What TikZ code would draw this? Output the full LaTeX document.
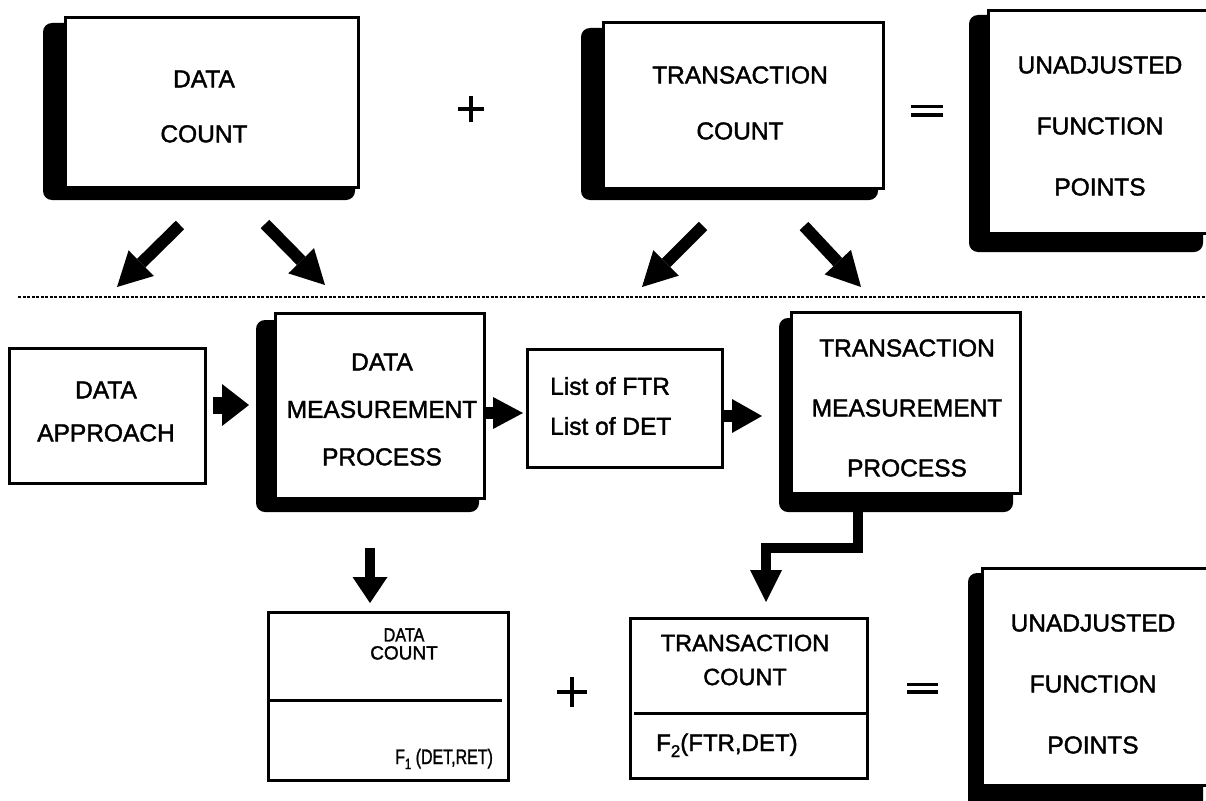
\documentclass[tikz,border=0pt]{standalone}
\usepackage{fontspec}
\setmainfont{Liberation Sans}[FakeBold=1.6]
\usepackage{graphicx}
\usetikzlibrary{arrows.meta}
\newcommand\fsz[2]{\fontsize{#1}{#2}\selectfont}
\begin{document}
\begin{tikzpicture}[x=1pt,y=-1pt,
  frame/.style={draw=black,line width=3pt,fill=white,inner sep=0pt},
  shade/.style={fill=black,rounded corners=9pt},
  lbl/.style 2 args={font=\fsz{#1}{#2},align=center,inner sep=0pt},
  blk/.style n args={3}{draw=black,line width=#1,line cap=butt,line join=miter,
    -{Triangle[length=#2,width=#3,line width=0pt]}},
  dashrule/.style={line width=1.8pt,dash pattern=on 3pt off 1.5pt},
  sign/.style={line width=3.6pt}]
\clip (0,0) rectangle (1206,800);
\fill[white] (0,0) rectangle (1206,800);

% ---------- upper equation ----------
\fill[shade] (43,23) rectangle (355,200);
\node[frame,minimum width=293pt,minimum height=169pt] (dc) at (211.5,102.5) {};
\node[lbl={24.5}{55}] (dcT) at (204,106.5) {DATA\\COUNT};

\fill[shade] (581,28) rectangle (878,200);
\node[frame,minimum width=280pt,minimum height=165pt] (tc) at (743,105.5) {};
\node[lbl={24.5}{56}] (tcT) at (740,103) {TRANSACTION\\COUNT};

\fill[shade] (969,15) rectangle (1203,252);
\node[frame,minimum width=226pt,minimum height=222pt] (uf) at (1101,122) {};
\node[lbl={24.5}{61}] (ufT) at (1100,126) {UNADJUSTED\\FUNCTION\\POINTS};

\coordinate (pl1) at (471,109);
\draw[sign] ([xshift=-13pt]pl1) -- ([xshift=13pt]pl1) ([yshift=-13pt]pl1) -- ([yshift=13pt]pl1);
\coordinate (eq1) at (927,110.8);
\draw[sign] ([shift={(-16,-4.3)}]eq1) -- ([shift={(16,-4.3)}]eq1)
            ([shift={(-16,4.3)}]eq1) -- ([shift={(16,4.3)}]eq1);

% ---------- arrows into the detail level ----------
\coordinate (a1s) at (180,225); \coordinate (a1e) at (117,287);
\coordinate (a2s) at (265,224); \coordinate (a2e) at (325,285);
\coordinate (a3s) at (703,226); \coordinate (a3e) at (642,287);
\coordinate (a4s) at (804,226); \coordinate (a4e) at (861,287);
\foreach \s/\e in {a1s/a1e,a2s/a2e,a3s/a3e,a4s/a4e}
  \draw[blk={12pt}{34pt}{36pt}] (\s) -- (\e);

\coordinate (rl) at (18,297); \coordinate (rr) at (1206,297);
\draw[dashrule] (rl) -- (rr);

% ---------- measurement process ----------
\node[frame,minimum width=196pt,minimum height=135pt] (da) at (107,415.5) {};
\node[lbl={24.5}{43}] (daT) at (106,411.5) {DATA\\APPROACH};

\fill[shade] (256,320) rectangle (479,512);
\node[frame,minimum width=209pt,minimum height=185pt] (dmp) at (379.5,405.5) {};
\node[lbl={24.5}{47.5}] (dmpT) at (382,409.5) {DATA\\MEASUREMENT\\PROCESS};

\node[frame,minimum width=195pt,minimum height=118pt] (lst) at (624.5,408) {};
\node[lbl={24.5}{40},align=left,anchor=west] (lstT) at (550,406) {List of FTR\\List of DET};

\fill[shade] (779,318) rectangle (1013,512);
\node[frame,minimum width=229pt,minimum height=181pt] (tmp) at (905.5,402.5) {};
\node[lbl={24.5}{60}] (tmpT) at (907,408) {TRANSACTION\\MEASUREMENT\\PROCESS};

\coordinate (m1s) at (213,405); \coordinate (m1e) at (249,405);
\draw[blk={17pt}{27pt}{42pt}] (m1s) -- (m1e);
\coordinate (m2s) at (484,413); \coordinate (m2e) at (523,413);
\draw[blk={12pt}{30pt}{32pt}] (m2s) -- (m2e);
\coordinate (m3s) at (722,416); \coordinate (m3e) at (762,416);
\draw[blk={12pt}{30pt}{34pt}] (m3s) -- (m3e);

\coordinate (d1s) at (370,548); \coordinate (d1e) at (370,603);
\draw[blk={10pt}{26pt}{35pt}] (d1s) -- (d1e);
\coordinate (d2s) at (858,512); \coordinate (d2e) at (766,602);
\draw[blk={10pt}{32pt}{32pt}] (d2s) -- (858,548) -- (766,548) -- (d2e);

% ---------- lower equation ----------
\node[frame,minimum width=240pt,minimum height=168pt] (dcb) at (388,696) {};
\coordinate (dv1l) at (268,700); \coordinate (dv1r) at (502,700);
\draw[line width=3pt] (dv1l) -- (dv1r);
\node[lbl={19}{18}] (dcbT) at (404,644) {\scalebox{0.85}[1]{DATA}\\COUNT};
\node[inner sep=0pt,anchor=base west,font=\fsz{21}{24}] (f1) at (395,764)
  {\scalebox{0.76}[1]{F\raisebox{-5pt}{\fsz{15}{15}1} (DET,RET)}};

\coordinate (pl2) at (572,692);
\draw[sign] ([xshift=-15pt]pl2) -- ([xshift=15pt]pl2) ([yshift=-15pt]pl2) -- ([yshift=15pt]pl2);

\node[frame,minimum width=237pt,minimum height=160pt] (tcb) at (748.5,698) {};
\coordinate (dv2l) at (634,713); \coordinate (dv2r) at (867,713);
\draw[line width=3pt] (dv2l) -- (dv2r);
\node[lbl={23.5}{34}] (tcbT) at (745,660) {TRANSACTION\\COUNT};
\node[inner sep=0pt,anchor=base west,font=\fsz{24}{28}] (f2) at (656,751)
  {F\raisebox{-6pt}{\fsz{17}{17}2}(FTR,DET)};

\coordinate (eq2) at (922.5,688.3);
\draw[sign] ([shift={(-15.5,-3.8)}]eq2) -- ([shift={(15.5,-3.8)}]eq2)
            ([shift={(-15.5,3.8)}]eq2) -- ([shift={(15.5,3.8)}]eq2);

\fill[shade] (968,573) rectangle (1203,812);
\node[frame,minimum width=232pt,minimum height=217pt] (ufb) at (1098,676.5) {};
\node[lbl={24.5}{61}] (ufbT) at (1093,684) {UNADJUSTED\\FUNCTION\\POINTS};
\end{tikzpicture}
\end{document}
